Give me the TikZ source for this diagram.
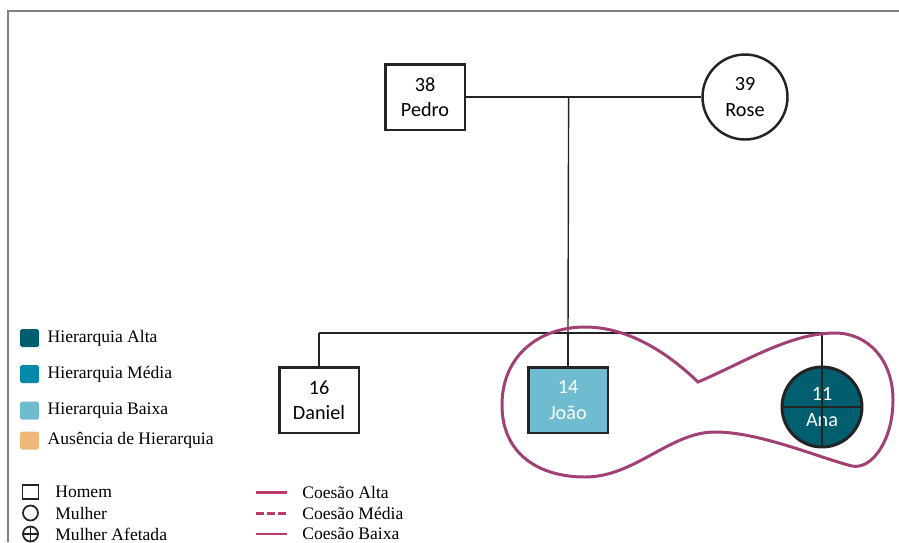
\documentclass[tikz,border=0pt]{standalone}
\usepackage{fontspec}
\setmainfont{Liberation Serif}
\newfontfamily\nodefont{Carlito}
\usetikzlibrary{positioning,calc}
\definecolor{HierAlta}{RGB}{0,94,110}
\definecolor{HierMedia}{RGB}{0,137,168}
\definecolor{HierBaixa}{RGB}{111,187,208}
\definecolor{HierAusente}{RGB}{240,185,124}
\definecolor{Coesao}{RGB}{160,64,116}
\definecolor{CoesaoLeg}{RGB}{187,58,106}
\definecolor{Frame}{RGB}{128,128,128}
\definecolor{Ink}{RGB}{35,35,35}

\begin{document}
\begin{tikzpicture}[x=0.02cm,y=-0.02cm,
    man/.style={rectangle,draw=Ink,line width=1.7pt,minimum width=1.6cm,minimum height=1.32cm,inner sep=0pt,align=center,font=\nodefont\fontsize{11.5}{14.5}\selectfont},
    woman/.style={circle,draw=Ink,line width=1.4pt,minimum size=1.7cm,inner sep=0pt,align=center,font=\nodefont\fontsize{11.5}{14.5}\selectfont},
    link/.style={draw=Ink,line width=0.8pt},
    swatch/.style={rectangle,rounded corners=1pt,minimum width=0.38cm,minimum height=0.36cm,inner sep=0pt},
    legtext/.style={font=\fontsize{10}{12}\selectfont,inner sep=0pt},
    cohesion/.style={draw=Coesao,line width=1.7pt}
]
\path[use as bounding box,clip] (0,0) rectangle (899,542);

% Frame
\draw[Frame,line width=0.6pt] (8,542) -- (8,11) -- (899,11);

% Parents
\node[man] (pedro) at (425,97) {38\\Pedro};
\node[woman] (rose) at (745,97) {39\\Rose};
\draw[link] (pedro.east) -- (rose.west);
\coordinate (marriage) at ($(pedro.east)!0.435!(rose.west)$);

% Children
\node[man] (daniel) at (319,400) {16\\Daniel};
\node[man,fill=HierBaixa,text=white] (joao) at (568,400) {14\\João};
\node[woman,fill=HierAlta,text=white,minimum size=1.6cm,line width=1.7pt] (ana) at (822,407) {11\\Ana};
\draw[Ink,line width=0.8pt] (ana.north) -- (ana.south);
\draw[Ink,line width=0.8pt] (ana.west) -- (ana.east);

% Sibship line
\coordinate (sib-left) at (319,333);
\coordinate (sib-mid) at (568,333);
\coordinate (sib-right) at (822,333);
\draw[link] (marriage) -- (sib-mid);
\draw[link] (sib-left) -- (sib-right);
\draw[link] (sib-left) -- (daniel.north);
\draw[link] (sib-mid) -- (joao.north);
\draw[link] (sib-right) -- (ana.north);

% Cohesion boundary
\draw[cohesion] (698,382) .. controls (670,355) and (630,327) .. (585,327)
    .. controls (540,327) and (502,355) .. (502,405)
    .. controls (502,455) and (540,477) .. (585,477)
    .. controls (635,477) and (670,432) .. (715,432)
    .. controls (760,432) and (820,458) .. (852,466)
    .. controls (872,470) and (893,440) .. (893,400)
    .. controls (893,360) and (868,333) .. (835,333)
    .. controls (790,333) and (745,362) .. cycle;

% Legend: hierarchy
\node[swatch,fill=HierAlta] (sw-alta) at (29.5,338) {};
\node[swatch,fill=HierMedia] (sw-media) at (29.5,374) {};
\node[swatch,fill=HierBaixa] (sw-baixa) at (29.5,410.5) {};
\node[swatch,fill=HierAusente] (sw-ausente) at (29.5,440.5) {};
\node[legtext,right=0.16cm of sw-alta] {Hierarquia Alta};
\node[legtext,right=0.16cm of sw-media] {Hierarquia Média};
\node[legtext,right=0.16cm of sw-baixa] {Hierarquia Baixa};
\node[legtext,right=0.16cm of sw-ausente] {Ausência de Hierarquia};

% Legend: symbols
\node[rectangle,draw=Ink,line width=0.9pt,minimum width=0.32cm,minimum height=0.28cm,inner sep=0pt] (sym-homem) at (30.5,492) {};
\node[circle,draw=Ink,line width=1pt,minimum size=0.3cm,inner sep=0pt] (sym-mulher) at (30.5,513) {};
\node[circle,draw=Ink,line width=1pt,minimum size=0.3cm,inner sep=0pt] (sym-afetada) at (30.5,534) {};
\draw[Ink,line width=0.8pt] (sym-afetada.north) -- (sym-afetada.south);
\draw[Ink,line width=0.8pt] (sym-afetada.west) -- (sym-afetada.east);
\node[legtext,anchor=west] at (55,492) {Homem};
\node[legtext,anchor=west] at (55,513) {Mulher};
\node[legtext,anchor=west] at (55,534) {Mulher Afetada};

% Legend: cohesion
\coordinate (ca-a) at (256,492); \coordinate (ca-b) at (287,492);
\coordinate (cm-a) at (256,513); \coordinate (cm-b) at (287,513);
\coordinate (cb-a) at (256,534); \coordinate (cb-b) at (287,534);
\draw[CoesaoLeg,line width=1.7pt] (ca-a) -- (ca-b);
\draw[CoesaoLeg,line width=1.7pt,dash pattern=on 0.16cm off 0.06cm] (cm-a) -- (cm-b);
\draw[CoesaoLeg,line width=0.85pt] (cb-a) -- (cb-b);
\node[legtext,right=0.3cm of ca-b] {Coesão Alta};
\node[legtext,right=0.3cm of cm-b] {Coesão Média};
\node[legtext,right=0.3cm of cb-b] {Coesão Baixa};

\end{tikzpicture}
\end{document}
